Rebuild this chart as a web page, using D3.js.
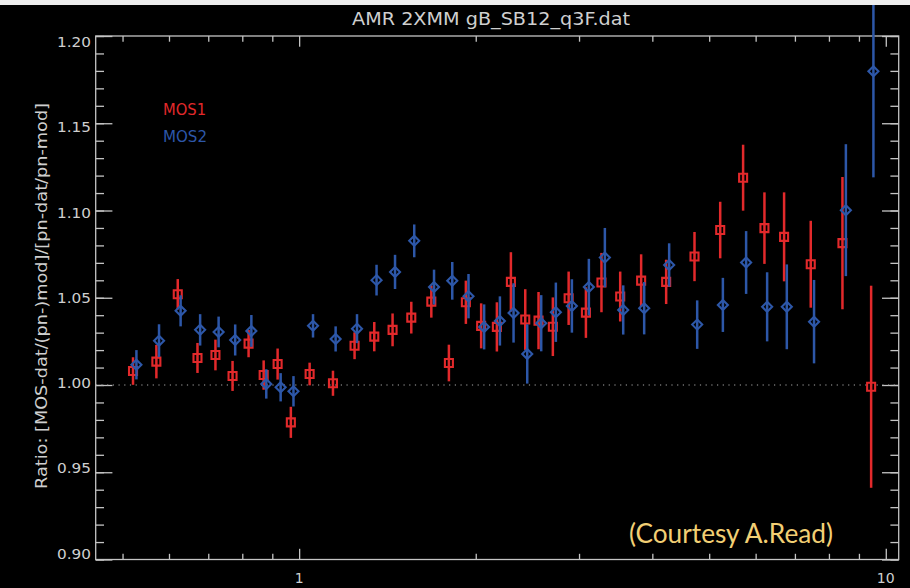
<!DOCTYPE html>
<html>
<head>
<meta charset="utf-8">
<script src="https://cdn.jsdelivr.net/npm/d3@7"></script>
<style>
  html, body { margin: 0; padding: 0; background: #000; }
  svg { display: block; }
</style>
</head>
<body>
<svg id="chart" width="910" height="588"></svg>
<script>
// MOS1 / pn and MOS2 / pn data-to-model ratios per energy bin (keV)
const energyMOS1 = [0.521, 0.571, 0.621, 0.671, 0.720, 0.770, 0.820, 0.870, 0.919, 0.968,
  1.042, 1.142, 1.243, 1.343, 1.443, 1.553, 1.680, 1.800, 1.924, 2.043,
  2.173, 2.296, 2.429, 2.559, 2.707, 2.880, 3.082, 3.276, 3.526, 3.828,
  4.223, 4.720, 5.221, 5.712, 6.211, 6.709, 7.449, 8.436, 9.441];
const ratioMOS1 = [1.0080, 1.0134, 1.0520, 1.0155, 1.0172, 1.0052, 1.0237, 1.0057, 1.0120, 0.9786,
  1.0063, 1.0010, 1.0225, 1.0277, 1.0316, 1.0386, 1.0478, 1.0126, 1.0474, 1.0339,
  1.0333, 1.0591, 1.0375, 1.0369, 1.0334, 1.0497, 1.0415, 1.0587, 1.0507, 1.0598,
  1.0591, 1.0736, 1.0888, 1.1188, 1.0899, 1.0849, 1.0692, 1.0813, 0.9990];
const errMOS1 = [0.0079, 0.0096, 0.0087, 0.0086, 0.0088, 0.0086, 0.0078, 0.0084, 0.0089, 0.0089,
  0.0065, 0.0072, 0.0077, 0.0084, 0.0094, 0.0091, 0.0092, 0.0105, 0.0124, 0.0129,
  0.0141, 0.0170, 0.0174, 0.0164, 0.0168, 0.0153, 0.0145, 0.0170, 0.0143, 0.0151,
  0.0127, 0.0141, 0.0162, 0.0189, 0.0205, 0.0255, 0.0249, 0.0379, 0.0579];

const energyMOS2 = [0.528, 0.577, 0.628, 0.678, 0.729, 0.778, 0.829, 0.879, 0.930, 0.978,
  1.056, 1.154, 1.255, 1.355, 1.457, 1.571, 1.698, 1.824, 1.944, 2.067,
  2.199, 2.320, 2.448, 2.586, 2.739, 2.917, 3.118, 3.320, 3.568, 3.874,
  4.273, 4.770, 5.276, 5.780, 6.277, 6.781, 7.546, 8.550, 9.526];
const ratioMOS2 = [1.0116, 1.0254, 1.0425, 1.0316, 1.0304, 1.0258, 1.0310, 1.0006, 0.9987, 0.9964,
  1.0339, 1.0264, 1.0323, 1.0601, 1.0648, 1.0826, 1.0561, 1.0597, 1.0509, 1.0333,
  1.0367, 1.0413, 1.0178, 1.0354, 1.0417, 1.0453, 1.0561, 1.0730, 1.0430, 1.0440,
  1.0688, 1.0346, 1.0459, 1.0702, 1.0448, 1.0448, 1.0363, 1.1002, 1.1798];
const errMOS2 = [0.0084, 0.0094, 0.0089, 0.0090, 0.0088, 0.0089, 0.0091, 0.0084, 0.0081, 0.0087,
  0.0067, 0.0072, 0.0083, 0.0088, 0.0098, 0.0094, 0.0100, 0.0108, 0.0127, 0.0129,
  0.0141, 0.0170, 0.0170, 0.0161, 0.0170, 0.0153, 0.0162, 0.0170, 0.0141, 0.0150,
  0.0124, 0.0139, 0.0155, 0.0180, 0.0198, 0.0243, 0.0239, 0.0378, 0.0608];

const xMajorTicks = [1, 10];
const xMinorTicks = [0.5, 0.6, 0.7, 0.8, 0.9, 2, 3, 4, 5, 6, 7, 8, 9];
const yMajorTicks = [0.90, 0.95, 1.00, 1.05, 1.10, 1.15, 1.20];
const yMinorTicks = d3.range(90, 121).map(v => v / 100);

const titleText = "AMR 2XMM gB_SB12_q3F.dat";
const yTitleText = "Ratio: [MOS-dat/(pn-)mod]/[pn-dat/pn-mod]";
const seriesNames = ["MOS1", "MOS2"];
const creditText = "(Courtesy A.Read)";

const RED = "#e2292b", BLUE = "#2d57a8", AXIS = "#c4c4c4", TXT = "#cfcfcf";
const FONT = "'DejaVu Sans', 'Liberation Sans', sans-serif";

const svg = d3.select("#chart");
svg.append("rect").attr("width", 910).attr("height", 588).attr("fill", "#000");

const L = 95.7, R = 898.7, T = 36, B = 559.5;
const x = d3.scaleLog().domain([0.45, 10.52]).range([L, R]);
const y = d3.scaleLinear().domain([0.90, 1.20]).range([B, T]);
// tick labels sit on a slightly compressed ladder
const yLab = d3.scaleLinear().domain([0.90, 1.20]).range([553.5, 42]);

// frame
svg.append("rect").attr("x", L).attr("y", T).attr("width", R - L).attr("height", B - T)
  .attr("fill", "none").attr("stroke", AXIS).attr("stroke-width", 1.3);

function styleAxis(g) {
  g.select(".domain").remove();
  g.selectAll(".tick line").attr("stroke", AXIS).attr("stroke-width", 1.3);
  g.selectAll(".tick text").remove();
}
const xMinLen = 5.7, xMajLen = 10.7, yMinLen = 8.3, yMajLen = 16.7;
svg.append("g").attr("transform", `translate(0,${B})`)
  .call(d3.axisBottom(x).tickValues(xMinorTicks).tickSize(-xMinLen)).call(styleAxis);
svg.append("g").attr("transform", `translate(0,${B})`)
  .call(d3.axisBottom(x).tickValues(xMajorTicks).tickSize(-xMajLen)).call(styleAxis);
svg.append("g").attr("transform", `translate(0,${T})`)
  .call(d3.axisTop(x).tickValues(xMinorTicks).tickSize(-xMinLen)).call(styleAxis);
svg.append("g").attr("transform", `translate(0,${T})`)
  .call(d3.axisTop(x).tickValues(xMajorTicks).tickSize(-xMajLen)).call(styleAxis);
svg.append("g").attr("transform", `translate(${L},0)`)
  .call(d3.axisLeft(y).tickValues(yMinorTicks).tickSize(-yMinLen)).call(styleAxis);
svg.append("g").attr("transform", `translate(${L},0)`)
  .call(d3.axisLeft(y).tickValues(yMajorTicks).tickSize(-yMajLen)).call(styleAxis);
svg.append("g").attr("transform", `translate(${R},0)`)
  .call(d3.axisRight(y).tickValues(yMinorTicks).tickSize(-yMinLen)).call(styleAxis);
svg.append("g").attr("transform", `translate(${R},0)`)
  .call(d3.axisRight(y).tickValues(yMajorTicks).tickSize(-yMajLen)).call(styleAxis);

// tick labels
const fmtY = d3.format(".2f");
svg.append("g").selectAll("text").data(yMajorTicks).join("text")
  .attr("x", 91).attr("y", d => yLab(d)).attr("dy", "0.36em")
  .attr("text-anchor", "end").attr("fill", TXT)
  .style("font", `14px ${FONT}`)
  .attr("textLength", 34).attr("lengthAdjust", "spacingAndGlyphs")
  .text(fmtY);
svg.append("g").selectAll("text").data(xMajorTicks).join("text")
  .attr("x", d => x(d)).attr("y", 583)
  .attr("text-anchor", "middle").attr("fill", TXT)
  .style("font", `14px ${FONT}`)
  .text(d => d3.format("d")(d));

// title and y label
svg.append("text").attr("x", 352).attr("y", 25).attr("fill", TXT)
  .style("font", `17px ${FONT}`)
  .attr("textLength", 278).attr("lengthAdjust", "spacingAndGlyphs")
  .text(titleText);
svg.append("text")
  .attr("transform", `translate(47,296) rotate(-90)`)
  .attr("text-anchor", "middle").attr("fill", TXT)
  .style("font", `15px ${FONT}`)
  .attr("textLength", 386).attr("lengthAdjust", "spacingAndGlyphs")
  .text(yTitleText);

// reference line at unity
svg.append("line").attr("x1", L).attr("x2", R).attr("y1", y(1)).attr("y2", y(1))
  .attr("stroke", "#a8a8a8").attr("stroke-width", 1.2).attr("stroke-dasharray", "1.2,4.5");

// data
function drawSeries(E, V, S, color, shape) {
  const g = svg.append("g");
  const pts = E.map((e, i) => ({ e, v: V[i], s: S[i] }));
  g.selectAll("line").data(pts).join("line")
    .attr("x1", d => x(d.e)).attr("x2", d => x(d.e))
    .attr("y1", d => y(d.v - d.s)).attr("y2", d => y(d.v + d.s))
    .attr("stroke", color).attr("stroke-width", 2.5);
  const sym = shape === "square"
    ? d3.symbol().type(d3.symbolSquare).size(64)
    : d3.symbol().type(d3.symbolDiamond2).size(64);
  g.selectAll("path").data(pts).join("path")
    .attr("transform", d => `translate(${x(d.e)},${y(d.v)})`)
    .attr("d", sym).attr("fill", "none").attr("stroke", color).attr("stroke-width", 2.1);
}
drawSeries(energyMOS1, ratioMOS1, errMOS1, RED, "square");
drawSeries(energyMOS2, ratioMOS2, errMOS2, BLUE, "diamond");

// legend
svg.append("text").attr("x", 163).attr("y", 115).attr("fill", RED)
  .style("font", `16px ${FONT}`).attr("textLength", 43).attr("lengthAdjust", "spacingAndGlyphs")
  .text(seriesNames[0]);
svg.append("text").attr("x", 163).attr("y", 142).attr("fill", BLUE)
  .style("font", `16px ${FONT}`).attr("textLength", 44).attr("lengthAdjust", "spacingAndGlyphs")
  .text(seriesNames[1]);

// credit
svg.append("text").attr("x", 629).attr("y", 543).attr("fill", "#f2cf74")
  .style("font", `27px Lato, 'Open Sans', sans-serif`)
  .attr("textLength", 204).attr("lengthAdjust", "spacingAndGlyphs")
  .text(creditText);

// light strip along the top edge
svg.append("rect").attr("x", 0).attr("y", 0).attr("width", 910).attr("height", 5).attr("fill", "#eeeeee");
</script>
</body>
</html>
